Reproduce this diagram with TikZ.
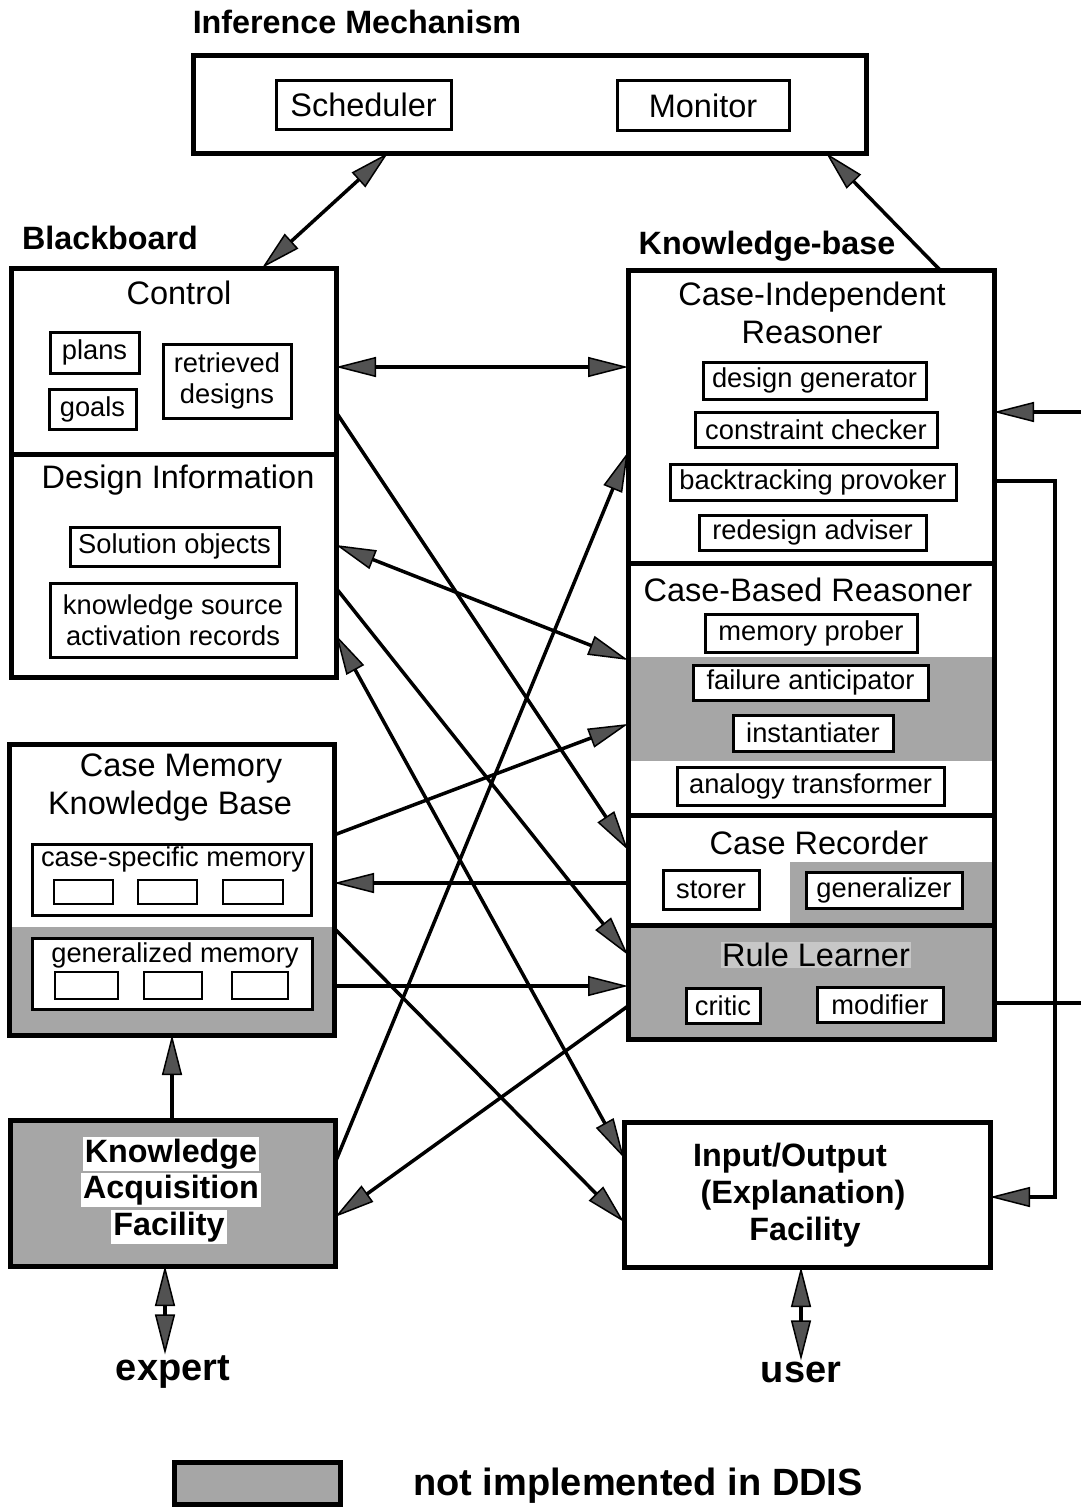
\documentclass[tikz,border=0pt]{standalone}
\usepackage{fontspec}
\setmainfont{Liberation Sans}
\usetikzlibrary{arrows.meta,fit}
\begin{document}
\begin{tikzpicture}[x=1pt,y=-1pt,
  >={Triangle[length=40pt,width=20pt,fill=black!68,line width=1.5pt]},
  txtL/.style={font=\fontsize{32.5}{37}\selectfont, inner sep=1pt},
  txtS/.style={font=\fontsize{27.3}{31}\selectfont},
  txtB/.style={font=\fontsize{32.3}{37}\selectfont\bfseries, inner sep=1pt},
  txtH/.style={font=\fontsize{38}{44}\selectfont\bfseries, inner sep=1pt},
  sec/.style={draw, line width=5pt, inner sep=0pt, outer sep=0pt},
  ibox/.style={draw, line width=3pt, fill=white, inner sep=0pt, outer sep=0pt},
  emptybox/.style={draw, line width=2.8pt, fill=white, inner sep=0pt, outer sep=0pt},
  conn/.style={line width=3.5pt},
  grayfill/.style={fill=black!35},
]
\fill[white] (0,0) rectangle (1081,1507);
\useasboundingbox (0,0) rectangle (1081,1507);

% ---------- titles
\node[txtB] (imt) at (357,22) {Inference Mechanism};
\node[txtB] (bbt) at (110,238) {Blackboard};
\node[txtB] (kbt) at (767,246) {Knowledge-base};

% ---------- inference mechanism
\node[sec, fit={(193,55) (866,153)}] (im) {};
\node[ibox, txtL, inner sep=0pt, minimum width=175pt, minimum height=49pt] (sched) at (363.5,104.5) {Scheduler};
\node[ibox, txtL, inner sep=0pt, minimum width=172pt, minimum height=50pt] (mon) at (703,105.5) {Monitor};

% ---------- blackboard
\node[sec, fit={(11,268) (336,454)}] (ctrl) {};
\node[sec, fit={(11,454) (336,677)}] (dinfo) {};
\node[txtL] (ctrlt) at (179,293) {Control};
\node[ibox, txtS, minimum width=89pt, minimum height=41pt] (plans) at (94.5,352.5) {plans};
\node[ibox, txtS, minimum width=87pt, minimum height=40pt] (goals) at (92.5,409) {goals};
\node[ibox, txtS, align=center, minimum width=128pt, minimum height=74pt] (retr) at (227,381) {retrieved\\designs};
\node[txtL] (dinfot) at (178,480) {Design Information};
\node[ibox, txtS, minimum width=209pt, minimum height=39pt] (solo) at (174.5,546.5) {Solution objects};
\node[ibox, txtS, align=center, minimum width=246pt, minimum height=74pt] (ksar) at (173,620) {knowledge source\\activation records};

% ---------- case memory
\fill[grayfill] (10,927) rectangle (334,1035);
\node[sec, fit={(9,744) (334,1035)}] (cm) {};
\node[txtL] (cmt1) at (181,769) {Case Memory};
\node[txtL] (cmt2) at (170,806) {Knowledge Base};
\node[ibox, fit={(32,844) (311,915)}] (csm) {};
\node[txtS, inner sep=0pt] (csmt) at (173,859) {case-specific memory};
\node[emptybox, minimum width=59pt, minimum height=24pt] (cs1) at (83.5,892) {};
\node[emptybox, minimum width=59pt, minimum height=24pt] (cs2) at (167.5,892) {};
\node[emptybox, minimum width=60pt, minimum height=24pt] (cs3) at (253,892) {};
\node[ibox, fit={(32,938) (312,1009)}] (gm) {};
\node[txtS, inner sep=0pt] (gmt) at (175,955) {generalized memory};
\node[emptybox, minimum width=63pt, minimum height=27pt] (gm1) at (86.5,985.5) {};
\node[emptybox, minimum width=58pt, minimum height=27pt] (gm2) at (173,985.5) {};
\node[emptybox, minimum width=56pt, minimum height=27pt] (gm3) at (260,985.5) {};

% ---------- knowledge base
\fill[grayfill] (630,657) rectangle (992,761);
\fill[grayfill] (790,862) rectangle (992,924);
\node[sec, fit={(628,270) (994,563)}] (cir) {};
\node[sec, fit={(628,563) (994,815)}] (cbr) {};
\node[sec, fit={(628,815) (994,925)}] (crec) {};
\node[sec, grayfill, fit={(628,925) (994,1039)}] (rl) {};

\node[txtL] (cirt1) at (812,297) {Case-Independent};
\node[txtL] (cirt2) at (812,332) {Reasoner};
\node[ibox, txtS, minimum width=223pt, minimum height=37pt] (dg) at (814.5,380.5) {design generator};
\node[ibox, txtS, minimum width=242pt, minimum height=35pt] (cc) at (816,429.5) {constraint checker};
\node[ibox, txtS, minimum width=286pt, minimum height=36pt] (bp) at (813,482) {backtracking provoker};
\node[ibox, txtS, minimum width=227pt, minimum height=35pt] (ra) at (812.5,532.5) {redesign adviser};

\node[txtL] (cbrt) at (808,590) {Case-Based Reasoner};
\node[ibox, txtS, minimum width=212pt, minimum height=38pt] (mp) at (811,633) {memory prober};
\node[ibox, txtS, minimum width=235pt, minimum height=35pt] (fa) at (810.5,682.5) {failure anticipator};
\node[ibox, txtS, minimum width=160pt, minimum height=36pt] (inst) at (813,733) {instantiater};
\node[ibox, txtS, minimum width=267pt, minimum height=38pt] (at) at (810.5,786) {analogy transformer};

\node[txtL] (crect) at (819,843) {Case Recorder};
\node[ibox, txtS, minimum width=96pt, minimum height=39pt] (sto) at (711,889.5) {storer};
\node[ibox, txtS, minimum width=156pt, minimum height=36pt] (gen) at (884,890) {generalizer};

\node[txtL, fill=black!22] (rlt) at (816,955) {Rule Learner};
\node[ibox, txtS, minimum width=74pt, minimum height=35pt] (crit) at (723,1005.5) {critic};
\node[ibox, txtS, minimum width=126pt, minimum height=35pt] (modi) at (880,1004.5) {modifier};

% ---------- knowledge acquisition facility
\node[sec, grayfill, fit={(10,1120) (335,1266)}] (kaf) {};
\node[txtB, fill=white, inner sep=2pt] (kaf1) at (171,1154) {Knowledge};
\node[txtB, fill=white, inner sep=2pt] (kaf2) at (171,1190) {Acquisition};
\node[txtB, fill=white, inner sep=2pt] (kaf3) at (169,1227) {Facility};

% ---------- input/output facility
\node[sec, fit={(624,1122) (990,1267)}] (io) {};
\node[txtB] (io1) at (790,1158) {Input/Output};
\node[txtB] (io2) at (803,1195) {(Explanation)};
\node[txtB] (io3) at (805,1232) {Facility};

% ---------- bottom
\node[txtH] (expert) at (173,1372) {expert};
\node[txtH] (user) at (801,1372) {user};
\node[sec, grayfill, fit={(174,1462) (340,1504)}] (legend) {};
\node[txtH] (legt) at (638,1486) {not implemented in DDIS};

% ---------- connectors
\draw[conn, <->] (im.south -| 388,0) -- (ctrl.north -| 262,0);
\draw[conn, ->] (cir.north -| 940,0) -- (im.south -| 826,0);
\draw[conn, <->] (ctrl.east |- 0,367) -- (cir.west |- 0,367);
\draw[conn, ->] (ctrl.east |- 0,412) -- (crec.west |- 0,850);
\draw[conn, <->] (dinfo.east |- 0,545) -- (cbr.west |- 0,660);
\draw[conn, ->] (dinfo.east |- 0,588) -- (rl.west |- 0,955);
\draw[conn, <->] (dinfo.east |- 0,635) -- (io.west |- 0,1158);
\draw[conn, ->] (cm.east |- 0,835) -- (cbr.west |- 0,724);
\draw[conn, ->] (crec.west |- 0,883) -- (cm.east |- 0,883);
\draw[conn, ->] (cm.east |- 0,928) -- (io.west |- 0,1222);
\draw[conn, ->] (cm.east |- 0,986) -- (rl.west |- 0,986);
\draw[conn, ->] (rl.west |- 0,1006) -- (kaf.east |- 0,1217);
\draw[conn, ->] (kaf.east |- 0,1163) -- (cir.west |- 0,452);
\draw[conn, ->] (kaf.north -| 172,0) -- (cm.south -| 172,0);
\draw[conn, <->] (kaf.south -| 165,0) -- (expert.north -| 165,0);
\draw[conn, <->] (io.south -| 801,0) -- (user.north -| 801,0);
\coordinate (rail) at (1055,481);
\draw[conn, ->] (cir.east |- rail) -- (rail) |- (io.east |- 0,1197);
\coordinate (inR) at (1081,412);
\draw[conn, ->] (inR) -- (cir.east |- inR);
\coordinate (outR) at (1081,1003);
\draw[conn] (rl.east |- outR) -- (outR);
\end{tikzpicture}
\end{document}
